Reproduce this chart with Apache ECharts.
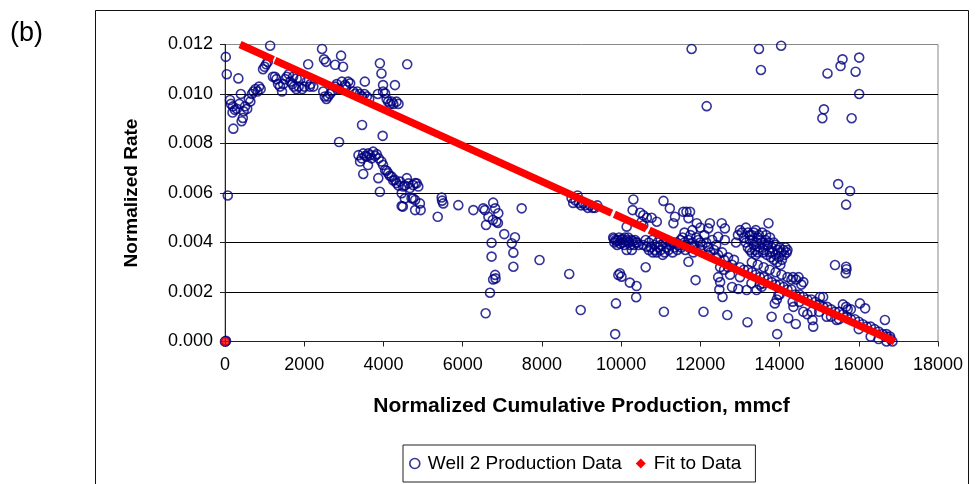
<!DOCTYPE html>
<html><head><meta charset="utf-8">
<script src="https://cdn.jsdelivr.net/npm/echarts/dist/echarts.min.js"></script>
<style>html,body{margin:0;padding:0;background:#fff}#c{width:976px;height:484px}</style>
</head><body><div id="c"></div>
<script>
// ---- data ----
const xAxisRange = [0, 18000];
const xStep = 2000;
const yAxisRange = [0, 0.012];
const yStep = 0.002;

const wellOrigin = [[0,0],[12,0],[25,0.00003]];
const wellEarly = [
 [20,0.0115],[45,0.0108],[70,0.0059],[126,0.00976],[150,0.0096],[190,0.00925],[200,0.0095],[250,0.00936],[210,0.0086],
 [300,0.0094],[337,0.01063],[360,0.0096],[400,0.0100],[420,0.0089],[450,0.00903],[470,0.0093],[505,0.0095],[560,0.0094],
 [600,0.0098],[640,0.0097],[680,0.0100],[720,0.0101],[770,0.0102],[820,0.0101],[860,0.0103],[900,0.0102],
 [960,0.0110],[1000,0.0111],[1040,0.0112],[1080,0.0113],[1140,0.01195],
 [1210,0.0107],[1260,0.0107],[1300,0.0106],[1340,0.0104],[1390,0.0103],[1440,0.0101],[1470,0.0104],[1520,0.0106],
 [1560,0.0107],[1610,0.0108],[1650,0.0105],[1700,0.0104],[1720,0.0107],[1740,0.0103],[1800,0.0102],[1810,0.01063],
 [1860,0.0103],[1900,0.0106],[1950,0.0102],[2000,0.0103],[2060,0.0105],[2100,0.0112],[2140,0.0103],[2160,0.0104],[2230,0.0103]
];
const wellUpper = [
 [2450,0.01182],[2500,0.0114],[2550,0.0113],[2780,0.01118],[2930,0.01155],[2980,0.0111],
 [2480,0.0101],[2520,0.0099],[2560,0.0098],[2600,0.0099],[2650,0.0100],[2700,0.0101],[2780,0.0103],[2820,0.0104],
 [2880,0.0102],[2950,0.0105],[3030,0.01036],[3060,0.0103],[3110,0.0105],[3160,0.01043],[3240,0.0101],[3280,0.0100],
 [3340,0.0101],[3400,0.0100],[3460,0.0099],[3520,0.0100],[3530,0.0105],[3580,0.0099],[3640,0.0098],
 [2880,0.00806],[3460,0.00875],
 [3860,0.0100],[3910,0.01124],[3950,0.01083],[3990,0.01036],[3990,0.0101],[4040,0.01003],[4080,0.0098],[4120,0.00969],
 [4170,0.0096],[4210,0.0097],[4250,0.0096],[4290,0.01036],[4330,0.00969],[4380,0.0096],[4600,0.0112],[3980,0.00831]
];
const wellLower = [
 [3370,0.00753],[3410,0.00727],[3450,0.0074],[3490,0.0076],[3540,0.0075],[3580,0.00747],[3620,0.0076],[3660,0.00753],
 [3700,0.0074],[3740,0.00767],[3790,0.0075],[3830,0.00757],[3880,0.0074],[3610,0.00713],[3490,0.00677],[3870,0.0066],
 [3910,0.00605],[3950,0.00727],[3990,0.00713],[4040,0.00693],[4080,0.0069],[4120,0.0068],[4160,0.0067],[4210,0.00666],
 [4250,0.0065],[4290,0.00653],[4330,0.0064],[4380,0.0063],[4420,0.00646],[4460,0.00599],[4500,0.00626],[4540,0.0063],
 [4590,0.0066],[4630,0.00639],[4670,0.0062],[4710,0.00579],[4750,0.00632],[4800,0.0064],[4840,0.00639],[4880,0.00626],
 [4800,0.00572],[4920,0.00558],[4460,0.00547],[4540,0.00578],[4750,0.00578],[4800,0.00531],[4940,0.00531],[4490,0.00545]
];
const wellMiddle = [
 [5370,0.00504],[5470,0.00582],[5480,0.00569],[5510,0.00558],[5890,0.00551],[6270,0.00531],[6520,0.00538],[6560,0.00531],
 [6590,0.00471],[6650,0.00504],[6770,0.00561],[6820,0.00538],[6900,0.00518],[6760,0.00491],[6850,0.00484],[6890,0.00479],
 [6730,0.00399],[6730,0.00343],[6820,0.00269],[6830,0.00255],[6770,0.00251],[6690,0.00197],[6580,0.00114],
 [7050,0.00434],[7240,0.00397],[7320,0.00421],[7280,0.00359],[7280,0.00302],[7490,0.00538],[7940,0.00329],
 [8690,0.00273],[8980,0.00127],
 [8750,0.0058],[8790,0.0056],[8850,0.0057],[8900,0.0059],[8940,0.0056],[8990,0.0055],[9040,0.0056],[9100,0.0055],
 [9160,0.0054],[9220,0.0055],[9280,0.0054],[9340,0.0054],[9400,0.0055]
];
const wellLate = [
 [9850,0.0003],[9870,0.00154],[9800,0.0042],[9830,0.0040],[9860,0.0041],[9900,0.0039],[9950,0.0042],[10000,0.0041],
 [10050,0.0040],[10100,0.0042],[10150,0.0041],[10200,0.0040],[10260,0.0041],[10320,0.0039],[10380,0.0040],[10440,0.0039],
 [9820,0.00415],[9880,0.00405],[9920,0.0041],[9980,0.00395],[10030,0.00415],[10080,0.0039],[10120,0.00405],[10180,0.0042],
 [10230,0.0039],[10300,0.00405],[10350,0.0041],[10410,0.0040],
 [10140,0.0037],[10270,0.0037],[9930,0.00269],[9970,0.00276],[10010,0.00262],[10220,0.00238],[10390,0.00224],[10380,0.00179],
 [10140,0.00464],[10310,0.00574],[10290,0.00531],[10480,0.0052],[10560,0.0051],[10650,0.0050],[10770,0.0050],[10520,0.00484],
 [10560,0.0047],[10900,0.00484],[10620,0.0030],
 [10560,0.0039],[10650,0.00383],[10700,0.0037],[10750,0.0038],[10800,0.0036],[10850,0.0037],[10900,0.0036],[10950,0.0038],
 [11000,0.0037],[11050,0.0035],[11100,0.0036],[11150,0.0038],[11200,0.0037],[11250,0.0039],[11300,0.0036],[11350,0.0038],
 [11400,0.0040],[11450,0.0039],[11500,0.0041],[11550,0.0042],[11600,0.0040],[11650,0.0039],[11700,0.0041],[11750,0.0043],
 [11800,0.0040],[11850,0.0039],[11900,0.0042],[11950,0.0041],[12000,0.0040],[12050,0.0039],[12100,0.0043],[12150,0.0040],
 [12200,0.0038],[12300,0.0041],[12400,0.0039],
 [10620,0.0041],[10700,0.0040],[10780,0.0041],[10840,0.0039],[10920,0.0040],[11000,0.0039],[11080,0.0040],[11160,0.0041],
 [11240,0.0040],[11320,0.0040],[11420,0.0037],[11520,0.0038],[11620,0.0037],[11720,0.0038],[11820,0.0036],[12250,0.0036],
 [12350,0.0037],[12450,0.0035],[12550,0.0036],[12700,0.0034],[12850,0.0033],
 [11070,0.00568],[11080,0.0012],[11230,0.00538],[11360,0.00504],[11320,0.00478],[11570,0.00524],[11650,0.00524],[11740,0.00524],
 [11700,0.00498],[11910,0.00478],[11600,0.0044],[11800,0.0045],[12000,0.0046],[12240,0.00478],[12200,0.00457],[12540,0.00478],
 [12620,0.00457],[12450,0.00423],[12620,0.0041],[11700,0.00322],[11880,0.00248],[12080,0.0012],
 [12450,0.0026],[12500,0.0024],[12480,0.0021],[12560,0.0018],[12600,0.0029],[12700,0.0030],[12750,0.0027],[12800,0.0022],
 [12960,0.00212],[12680,0.00107],[13190,0.00078],[13170,0.00208],[13290,0.00235],[13420,0.00208],[13550,0.00221],[13590,0.00235],
 [12900,0.0040],[12950,0.0043],[13000,0.0045],[13050,0.0044],[13100,0.0042],[13150,0.0046],[13200,0.0044],[13250,0.0041],
 [13300,0.0043],[13350,0.0039],[13400,0.0045],[13450,0.0042],[13500,0.0038],[13550,0.0040],[13600,0.0037],[13650,0.0041],
 [13700,0.0039],[13750,0.0036],[13800,0.0038],[13850,0.0040],[13900,0.0039],[13950,0.0037],[14000,0.0038],[14050,0.0036],
 [14100,0.0037],[14180,0.0036],[13720,0.00478],[13250,0.0037],[13400,0.0035],
 [13150,0.0040],[13200,0.0038],[13250,0.0043],[13300,0.0036],[13320,0.0041],[13350,0.0044],[13380,0.0037],[13420,0.0040],
 [13450,0.0036],[13480,0.0043],[13520,0.0041],[13560,0.0044],[13580,0.0036],[13620,0.0039],[13660,0.0043],[13680,0.0035],
 [13720,0.0040],[13760,0.0042],[13780,0.0034],[13820,0.0036],[13860,0.0033],[13900,0.0035],[13940,0.0032],[13980,0.0034],
 [14020,0.0031],[14060,0.0033],[14120,0.0035],[14150,0.0038],[14200,0.0037],[13300,0.0032],[13450,0.0031],[13600,0.0030],
 [13750,0.0029],[13900,0.0028],[14050,0.0027],[14200,0.0026],[14300,0.0025],
 [13930,0.0017],[13880,0.00154],[13970,0.00188],[13800,0.0010],[13940,0.0003],[14220,0.00094],[14410,0.00071],[14330,0.00161],
 [14340,0.0026],[14420,0.0025],[14480,0.0026],[14550,0.0023],[14600,0.0024],[14810,0.0012],[14830,0.00087],[14850,0.0006],
 [14350,0.0014],[14600,0.0012],[14700,0.0011],
 [15020,0.0018],[15100,0.0018],[15190,0.0010],[15300,0.0010],[15440,0.00087],[15400,0.00309],[15680,0.00302],[15690,0.00292],
 [15670,0.00276],[15480,0.00636],[15780,0.00608],[15680,0.00553],[15600,0.0015],[15680,0.0014],[15720,0.0013],[15800,0.0013],
 [16030,0.00154],[16160,0.00134],[16660,0.00087],[16700,0.0003],[16790,0.0002]
];
const wellOutliers = [
 [11780,0.01182],[12160,0.00951],[13480,0.01182],[13530,0.01097],[14040,0.01195],[15210,0.01083],[15540,0.01113],
 [15590,0.0114],[16010,0.01147],[15920,0.0109],[16010,0.0100],[15120,0.00938],[15080,0.00902],[15820,0.00902]
];
const wellBand = [
 [11600,0.0039],[11800,0.0038],[12000,0.0037],[12200,0.0035],[12400,0.0034],[12600,0.0033],[12800,0.0031],[13000,0.0030],
 [13100,0.0029],[13200,0.0029],[13300,0.0028],[13400,0.0027],[13500,0.0026],[13600,0.0026],[13700,0.0025],[13800,0.0024],
 [13900,0.0023],[14000,0.0023],[14100,0.0022],[14200,0.0021],[14300,0.0021],[14400,0.0019],[14500,0.0019],[14600,0.0018],
 [14700,0.0017],[14800,0.0017],[14900,0.0016],[15000,0.0015],[15100,0.0014],[15200,0.0014],[15300,0.0013],[15400,0.0012],
 [15500,0.0012],[15600,0.0011],[15700,0.0010],[15800,0.0009],[15900,0.0009],[16000,0.0008],[16100,0.0007],[16200,0.0006],
 [16300,0.0006],[16400,0.0005],[16500,0.0004],[16600,0.0003],[16700,0.0002],[16800,0.0001],
 [12500,0.0030],[13000,0.0026],[13500,0.0023],[14000,0.0019],[14500,0.0016],[15000,0.0012],[15500,0.0009],[16000,0.0005],
 [16300,0.0002],[16500,0.0001],[16700,0.0000],[16850,0.0000]
];
const fitSegments = [
 [[380,0.01200],[1220,0.01139]],
 [[1260,0.01136],[9760,0.00519]],
 [[9830,0.00514],[10640,0.00455]],
 [[10710,0.00450],[16900,0.00000]]
];
const fitOrigin = [[0,0]];
const seriesNames = ['Well 2 Production Data', 'Fit to Data'];

// ---- chart ----
const FONT = '"Liberation Sans", Arial, sans-serif';
const wellData = [].concat(wellOrigin, wellEarly, wellUpper, wellLower, wellMiddle, wellLate, wellOutliers, wellBand);
const navy = '#000080', red = '#ff0000';

const series = [{
  name: seriesNames[0], type: 'scatter', data: wellData, symbol: 'circle', symbolSize: 9,
  itemStyle: { color: 'rgba(0,0,0,0)', borderColor: navy, borderWidth: 1.6 },
  emphasis: { disabled: true }, silent: true, z: 2
}];
fitSegments.forEach(seg => series.push({
  name: seriesNames[1], type: 'line', data: seg, showSymbol: false, symbol: 'none',
  lineStyle: { color: red, width: 7.5, cap: 'butt' }, itemStyle: { color: red },
  silent: true, z: 3, animation: false
}));
series.push({
  name: seriesNames[1], type: 'scatter', data: fitOrigin, symbol: 'circle', symbolSize: 9,
  itemStyle: { color: red }, silent: true, z: 4
});

const chart = echarts.init(document.getElementById('c'), null, { renderer: 'canvas' });
chart.setOption({
  animation: false,
  backgroundColor: '#fff',
  textStyle: { fontFamily: FONT },
  grid: { left: 225, top: 44.5, width: 713, height: 297, show: true, borderColor: '#888', borderWidth: 1,
          containLabel: false, outerBoundsMode: 'none' },
  xAxis: {
    type: 'value', min: xAxisRange[0], max: xAxisRange[1], interval: xStep,
    axisLine: { show: true, onZero: false, lineStyle: { color: '#222', width: 1 } },
    axisTick: { show: true, inside: false, length: 5, lineStyle: { color: '#222' } },
    axisLabel: { color: '#000', fontSize: 18, fontFamily: FONT, margin: 15, formatter: v => String(v) },
    splitLine: { show: false },
    name: 'Normalized Cumulative Production, mmcf', nameLocation: 'middle', nameGap: 54,
    nameTextStyle: { color: '#000', fontSize: 21, fontWeight: 'bold', fontFamily: FONT }
  },
  yAxis: {
    type: 'value', min: yAxisRange[0], max: yAxisRange[1], interval: yStep,
    axisLine: { show: true, onZero: false, lineStyle: { color: '#222', width: 1 } },
    axisTick: { show: true, inside: false, length: 5, lineStyle: { color: '#222' } },
    axisLabel: { color: '#000', fontSize: 18, fontFamily: FONT, margin: 12, formatter: v => v.toFixed(3) },
    splitLine: { show: true, showMaxLine: false, lineStyle: { color: '#000', width: 1 } },
    name: 'Normalized Rate', nameLocation: 'middle', nameGap: 84,
    nameTextStyle: { color: '#000', fontSize: 19, fontWeight: 'bold', fontFamily: FONT }
  },
  legend: {
    left: 403, top: 445, orient: 'horizontal',
    padding: [9, 14, 9, 6], itemGap: 14, itemWidth: 16, itemHeight: 10,
    borderColor: '#222', borderWidth: 1, backgroundColor: '#fff',
    textStyle: { color: '#000', fontSize: 19, fontFamily: FONT },
    selectedMode: false,
    data: [
      { name: seriesNames[0], icon: 'circle', itemStyle: { color: 'rgba(0,0,0,0)', borderColor: navy, borderWidth: 1.6 } },
      { name: seriesNames[1], icon: 'path://M0,-1L1,0L0,1L-1,0Z', itemStyle: { color: red, borderWidth: 0 } }
    ]
  },
  graphic: [
    { type: 'rect', shape: { x: 95.5, y: 10.5, width: 873, height: 490 }, style: { fill: 'none', stroke: '#111', lineWidth: 1 }, silent: true, z: -1 },
    { type: 'text', left: 10, top: 20, style: { text: '(b)', font: '27px ' + FONT, fill: '#000' }, silent: true }
  ],
  series: series
});
</script></body></html>
